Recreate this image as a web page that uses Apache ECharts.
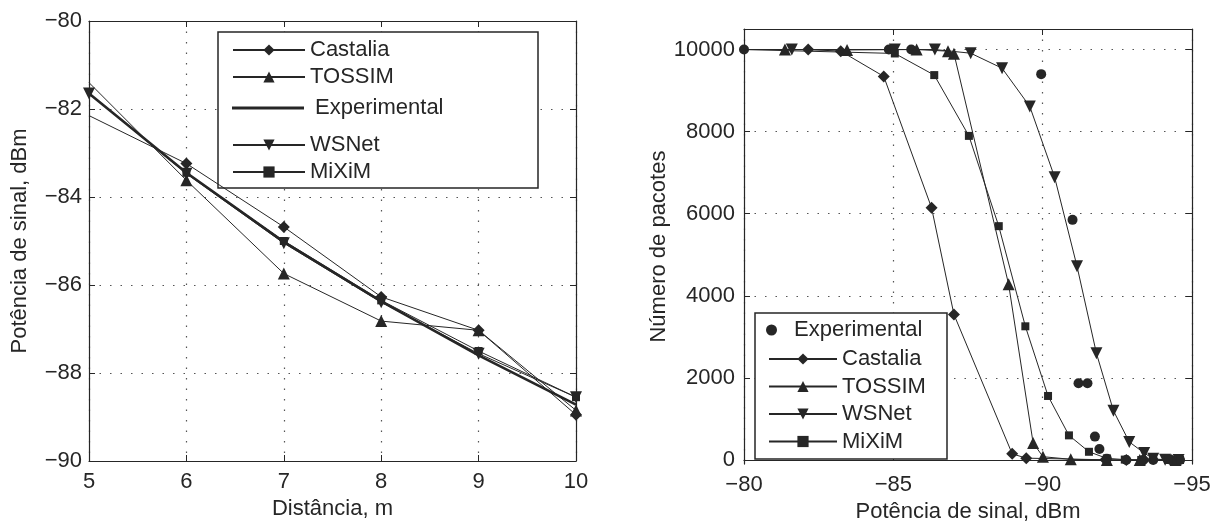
<!DOCTYPE html>
<html>
<head>
<meta charset="utf-8">
<script src="https://cdn.jsdelivr.net/npm/echarts@6/dist/echarts.min.js"></script>
<style>
  html, body { margin: 0; padding: 0; background: #fff; }
  #chart { width: 1217px; height: 528px; }
</style>
</head>
<body>
<div id="chart"></div>
<script>
// left panel: potência x distância
var distancia = [5, 6, 7, 8, 9, 10];
var castaliaDist = [-82.15, -83.24, -84.68, -86.27, -87.03, -88.95];
var tossimDist = [-81.4, -83.62, -85.74, -86.82, -87.03, -88.85];
var experimentalDist = [-81.65, -83.45, -85.02, -86.37, -87.6, -88.72];
var wsnetDist = [-81.65, -83.47, -85.05, -86.39, -87.56, -88.55];
var miximDist = [-81.65, -83.45, -85.0, -86.35, -87.5, -88.55];

// right panel: pacotes x potência
var potExperimental = [-80, -84.85, -85.6, -89.95, -91.0, -91.2, -91.5, -91.75, -91.9, -92.15, -92.8, -93.35, -93.7, -94.3, -94.6];
var pacExperimental = [10000, 10000, 10000, 9400, 5850, 1870, 1870, 570, 270, 30, 0, 0, 0, 0, 0];
var potCastalia = [-80, -82.15, -83.24, -84.68, -86.28, -87.03, -88.98, -89.45, -92.1, -92.8, -93.4, -94.3];
var pacCastalia = [10000, 10000, 9960, 9345, 6144, 3544, 150, 45, 5, 0, 0, 0];
var potTossim = [-80, -81.37, -83.45, -85.78, -86.83, -87.03, -88.86, -89.68, -90.01, -90.94, -92.15, -93.25, -94.45];
var pacTossim = [10000, 10000, 9990, 10000, 9960, 9900, 4280, 416, 80, 17, 0, 0, 0];
var potWsnet = [-80, -81.6, -85.05, -86.39, -87.59, -88.64, -89.57, -90.4, -91.15, -91.8, -92.37, -92.9, -93.4, -93.7, -94.1, -94.55];
var pacWsnet = [10000, 10000, 10000, 10000, 9910, 9545, 8612, 6890, 4720, 2600, 1200, 440, 170, 30, 5, 0];
var potMixim = [-80, -85.05, -86.37, -87.53, -88.53, -89.42, -90.18, -90.88, -91.55, -92.15, -92.75, -93.3, -94.2, -94.6];
var pacMixim = [10000, 9904, 9377, 7896, 5697, 3257, 1560, 600, 200, 40, 10, 0, 0, 0];

var pacTicks = [0, 2000, 4000, 6000, 8000, 10000];

var ink = '#262626';
var font = '"Liberation Sans", Arial, sans-serif';
var downTri = 'path://M0,0L10,0L5,9Z';

function minus(v) { return String(v).replace('-', '\u2212'); }

// first point has no marker: the line comes in from outside the axes
function pairs(xs, ys, hideFirst) {
  return ys.map(function (y, i) {
    if (hideFirst && i === 0) return { value: [xs[i], y], symbol: 'none' };
    return [xs[i], y];
  });
}

function lineSeries(name, idx, data, symbol, size) {
  return {
    name: name, type: 'line', xAxisIndex: idx, yAxisIndex: idx,
    data: data, symbol: symbol, symbolSize: size, showAllSymbol: true,
    lineStyle: { color: ink, width: 1 },
    itemStyle: { color: ink },
    emphasis: { disabled: true },
    animation: false
  };
}

function mainX(grid, opts) {
  return Object.assign({
    gridIndex: grid, type: 'value',
    axisLine: { lineStyle: { color: ink, width: 1.2 } },
    axisTick: { inside: true, length: 6, lineStyle: { color: ink } },
    axisLabel: { color: ink, fontSize: 22, fontFamily: font, margin: 10, formatter: minus },
    splitLine: { show: true, lineStyle: { color: '#555', type: [1.5, 9], width: 1.2 } },
    nameLocation: 'middle',
    nameTextStyle: { color: ink, fontSize: 22, fontFamily: font }
  }, opts);
}

function mirror(grid, pos, opts) {
  return Object.assign({
    gridIndex: grid, type: 'value', position: pos,
    axisLine: { show: true, onZero: false, lineStyle: { color: ink, width: 1.2 } },
    axisTick: { inside: true, length: 6, lineStyle: { color: ink } },
    axisLabel: { show: false },
    splitLine: { show: false }
  }, opts);
}

var legendText = { color: ink, fontSize: 22, fontFamily: font, lineHeight: 22 };

var option = {
  backgroundColor: '#fff',
  animation: false,
  grid: [
    { left: 89, top: 21, right: 641, bottom: 67 },
    { left: 744, top: 29, right: 25, bottom: 58 }
  ],
  xAxis: [
    mainX(0, { min: 5, max: 10, interval: 1, name: 'Distância, m', nameGap: 36 }),
    mainX(1, { min: -95, max: -80, interval: 5, inverse: true, name: 'Potência de sinal, dBm', nameGap: 36 }),
    mirror(0, 'top', { min: 5, max: 10, interval: 1 }),
    mirror(1, 'top', { min: -95, max: -80, interval: 5, inverse: true })
  ],
  yAxis: [
    mainX(0, { min: -90, max: -80, interval: 2, name: 'Potência de sinal, dBm', nameGap: 58,
      axisLabel: { color: ink, fontSize: 22, fontFamily: font, margin: 7, formatter: minus } }),
    mainX(1, { min: -100, max: 10500, name: 'Número de pacotes', nameGap: 60,
      axisLabel: { color: ink, fontSize: 22, fontFamily: font, margin: 9, customValues: pacTicks,
        formatter: function (v) { return String(v); } },
      axisTick: { inside: true, length: 6, lineStyle: { color: ink }, customValues: pacTicks } }),
    mirror(0, 'right', { min: -90, max: -80, interval: 2 }),
    mirror(1, 'right', { min: -100, max: 10500, axisTick: { inside: true, length: 6, lineStyle: { color: ink }, customValues: pacTicks } })
  ],
  legend: [
    { data: ['Castalia', 'TOSSIM'], orient: 'vertical', left: 232, top: 39, padding: 0,
      itemWidth: 72, itemHeight: 14, itemGap: 5, selectedMode: false, textStyle: legendText },
    { data: [{ name: ' Experimental', icon: 'rect' }], orient: 'vertical', left: 232, top: 97, padding: 0,
      itemWidth: 72, itemHeight: 3, selectedMode: false, textStyle: legendText },
    { data: ['WSNet', 'MiXiM'], orient: 'vertical', left: 232, top: 134, padding: 0,
      itemWidth: 72, itemHeight: 14, itemGap: 5, selectedMode: false, textStyle: legendText },
    { data: ['Experimental'], orient: 'vertical', left: 766, top: 319, padding: 0,
      itemWidth: 11, itemHeight: 11, selectedMode: false,
      textStyle: Object.assign({ padding: [0, 0, 0, 12] }, legendText) },
    { data: ['Castalia', 'TOSSIM', 'WSNet', 'MiXiM'], orient: 'vertical', left: 768, top: 348, padding: 0,
      itemWidth: 68, itemHeight: 14, itemGap: 5.5, selectedMode: false, textStyle: legendText }
  ],
  graphic: {
    elements: [
      { type: 'rect', z: 3, shape: { x: 218, y: 32, width: 320, height: 156 },
        style: { fill: '#fff', stroke: ink, lineWidth: 1.5 } },
      { type: 'rect', z: 3, shape: { x: 755, y: 313, width: 192, height: 146 },
        style: { fill: '#fff', stroke: ink, lineWidth: 1.5 } }
    ]
  },
  series: [
    lineSeries('Castalia', 0, pairs(distancia, castaliaDist, true), 'diamond', 12),
    lineSeries('TOSSIM', 0, pairs(distancia, tossimDist, true), 'triangle', 12),
    Object.assign(lineSeries(' Experimental', 0, pairs(distancia, experimentalDist, false), 'none', 0),
      { lineStyle: { color: ink, width: 2.6 } }),
    lineSeries('MiXiM', 0, pairs(distancia, miximDist, true), 'rect', 8),
    lineSeries('WSNet', 0, pairs(distancia, wsnetDist, false), downTri, 12),

    { name: 'Experimental', type: 'scatter', xAxisIndex: 1, yAxisIndex: 1,
      data: pairs(potExperimental, pacExperimental, false), symbol: 'circle', symbolSize: 10,
      itemStyle: { color: ink, opacity: 1 }, emphasis: { disabled: true }, animation: false },
    lineSeries('Castalia', 1, pairs(potCastalia, pacCastalia, true), 'diamond', 12),
    lineSeries('TOSSIM', 1, pairs(potTossim, pacTossim, true), 'triangle', 12),
    lineSeries('WSNet', 1, pairs(potWsnet, pacWsnet, true), downTri, 12),
    lineSeries('MiXiM', 1, pairs(potMixim, pacMixim, true), 'rect', 8)
  ]
};

var chart = echarts.init(document.getElementById('chart'), null, { renderer: 'canvas' });
chart.setOption(option);
</script>
</body>
</html>
